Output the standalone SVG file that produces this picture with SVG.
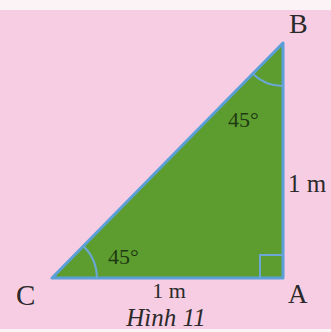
<svg xmlns="http://www.w3.org/2000/svg" width="331" height="332" viewBox="0 0 331 332">
<style>
.lbl{font-family:"Liberation Serif","Times New Roman",serif;fill:#2a2a2a}
.ang{font-family:"Liberation Serif","Times New Roman",serif;fill:#1f3a12}
.mark{fill:none;stroke:#6aa6d6;stroke-width:2}
</style>
<rect x="0" y="0" width="331" height="332" fill="#f7cde3"/>
<rect x="0" y="0" width="331" height="10" fill="#fbf3f6"/>
<rect x="0" y="329" width="331" height="3" fill="#fbf3f6"/>
<g id="triangle">
<polygon points="52,278 283,43 283,278" fill="#5d9d2f" stroke="#5b9fd8" stroke-width="3" stroke-linejoin="round"/>
</g>
<g id="marks">
<path class="mark" d="M97,278 A45,45 0 0 0 83.6,246.2"/>
<path class="mark" d="M283,86 A43,43 0 0 1 252.7,73.8"/>
<path class="mark" d="M260,278 L260,255 L283,255"/>
</g>
<g id="labels">
<text class="lbl" x="289" y="33" font-size="28">B</text>
<text class="lbl" x="16" y="305" font-size="29">C</text>
<text class="lbl" x="288" y="303" font-size="27">A</text>
<text class="lbl" x="288" y="192" font-size="25">1 m</text>
<text class="lbl" x="169" y="298" font-size="22" text-anchor="middle">1 m</text>
<text class="lbl" x="166" y="326" font-size="25" font-style="italic" text-anchor="middle">Hình 11</text>
<text class="ang" x="108" y="264" font-size="22">45°</text>
<text class="ang" x="228" y="127" font-size="22">45°</text>
</g>
</svg>
